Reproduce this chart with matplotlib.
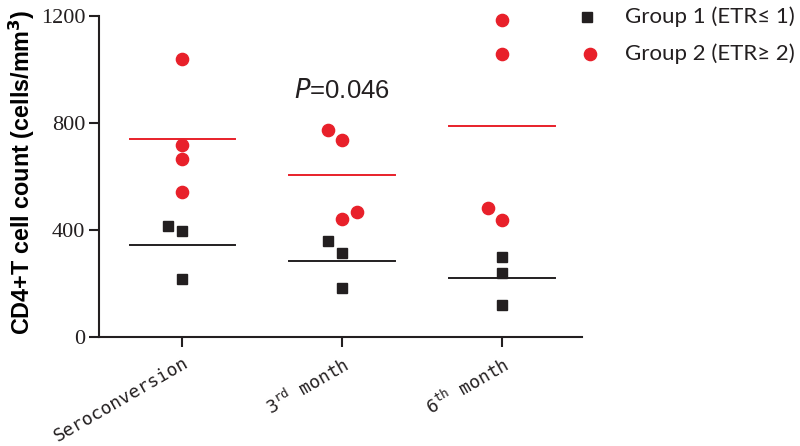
import matplotlib
matplotlib.use("Agg")
import matplotlib.pyplot as plt
from matplotlib.lines import Line2D

categories = ["Seroconversion", "3$^{\\mathtt{rd}}$ month", "6$^{\\mathtt{th}}$ month"]
g1_values = [[416, 397, 216], [358, 315, 182], [298, 240, 120]]
g1_offsets = [[-0.09, 0, 0], [-0.09, 0, 0], [0, 0, 0]]
g2_values = [[1038, 719, 664, 542], [773, 738, 467, 441], [1184, 1059, 483, 436]]
g2_offsets = [[0, 0, 0, 0], [-0.09, 0, 0.09, 0], [0, 0, -0.09, 0]]
yticks = [0, 400, 800, 1200]
legend_labels = ["Group 1 (ETR\u2264 1)", "Group 2 (ETR\u2265 2)"]

RED = "#E8202A"
BLACK = "#231F20"
MS_SQ = 7.5
MS_CI = 8.8

fig = plt.figure(figsize=(8, 4.46), dpi=100)
ax = fig.add_axes([0.124, 0.2444, 0.6035, 0.7197])

for i in range(len(categories)):
    xs1 = [i + o for o in g1_offsets[i]]
    ax.plot(xs1, g1_values[i], ls="none", marker="s", ms=MS_SQ, color=BLACK, clip_on=False, zorder=3)
    xs2 = [i + o for o in g2_offsets[i]]
    ax.plot(xs2, g2_values[i], ls="none", marker="o", ms=MS_CI, color=RED, clip_on=False, zorder=3)
    m1 = sum(g1_values[i]) / len(g1_values[i])
    m2 = sum(g2_values[i]) / len(g2_values[i])
    ax.plot([i - 0.33, i + 0.33], [m1, m1], color=BLACK, lw=1.4, zorder=2)
    ax.plot([i - 0.33, i + 0.33], [m2, m2], color=RED, lw=1.4, zorder=2)

ax.set_xlim(-0.52, 2.5)
ax.set_ylim(0, 1200)
ax.set_yticks(yticks)
ax.set_yticklabels([str(v) for v in yticks], family="Liberation Serif", fontsize=16)
ax.set_xticks(range(len(categories)))
ax.set_xticklabels(categories, rotation=30, ha="right", rotation_mode="anchor",
                   family="DejaVu Sans Mono", fontsize=13)
for s in ["top", "right"]:
    ax.spines[s].set_visible(False)
for s in ["left", "bottom"]:
    ax.spines[s].set_linewidth(1.5)
    ax.spines[s].set_color(BLACK)
ax.tick_params(axis="both", direction="out", length=7, width=1.5, colors=BLACK)
ax.tick_params(axis="x", pad=5)
ax.tick_params(axis="y", pad=3)

ax.set_ylabel("CD4+T cell count (cells/mm$^{\\mathbf{3}}$)", family="Liberation Sans",
              fontweight="bold", fontsize=16.8)
ax.yaxis.set_label_coords(-0.128, 0.512)

ax.text(1, 920, "$P$=0.046", family="Liberation Sans", fontsize=18.5, ha="center", va="center",
        color=BLACK)

W, H = 800, 446
fig.add_artist(Line2D([587 / W], [1 - 17 / H], transform=fig.transFigure, ls="none",
                      marker="s", ms=MS_SQ, color=BLACK))
fig.add_artist(Line2D([590 / W], [1 - 54 / H], transform=fig.transFigure, ls="none",
                      marker="o", ms=MS_CI, color=RED))
fig.text(625 / W, 1 - 17 / H, legend_labels[0], family="Lato", fontsize=16, va="center", ha="left",
         color=BLACK)
fig.text(625 / W, 1 - 54 / H, legend_labels[1], family="Lato", fontsize=16, va="center", ha="left",
         color=BLACK)

fig.savefig("out.png", dpi=100)
